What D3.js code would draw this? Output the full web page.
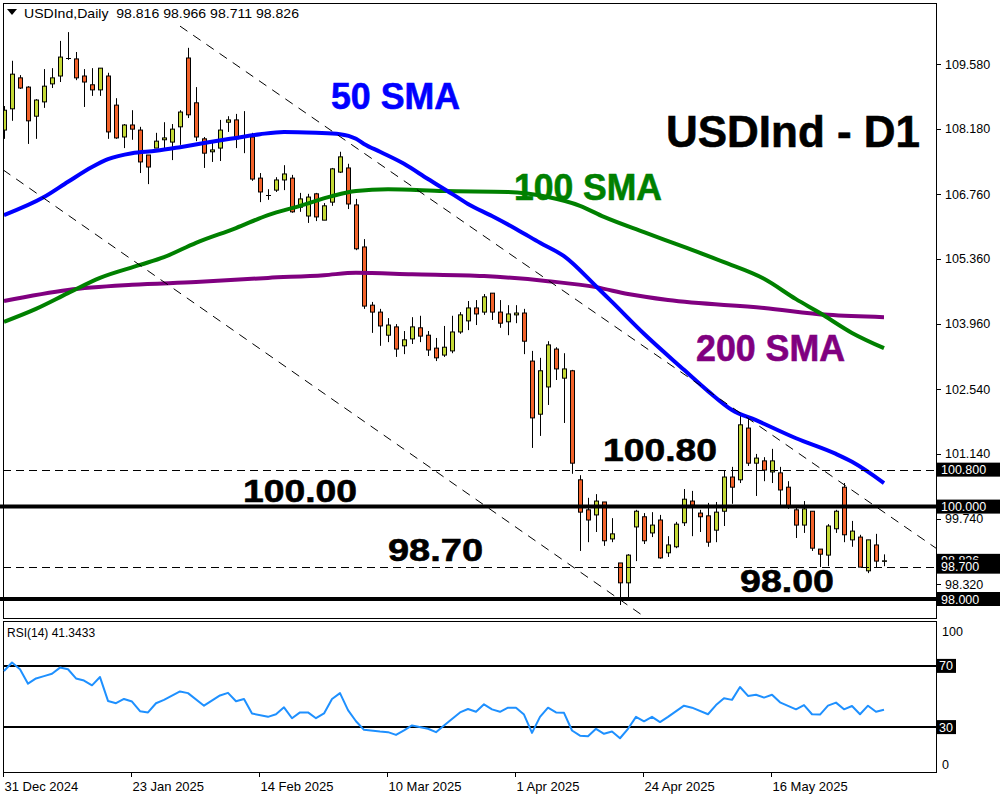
<!DOCTYPE html>
<html><head><meta charset="utf-8">
<script src="https://cdn.jsdelivr.net/npm/d3@7"></script>
<style>body{margin:0;background:#fff;} svg{display:block;}</style>
</head><body>
<svg id="c" width="1000" height="800"></svg>
<script>
// ---------- DATA ----------
const opens = [108.15,108.61,109.28,109.08,108.45,108.76,109.15,109.32,109.72,109.69,
109.32,109.13,109.02,109.32,108.69,108.00,108.26,108.15,107.61,107.76,
107.94,107.89,108.22,109.71,108.74,107.96,107.68,107.76,108.32,108.37,
108.02,108.00,107.11,106.74,106.85,107.07,107.11,106.48,106.29,106.77,
106.20,106.59,107.24,107.33,106.53,105.62,104.36,104.21,103.71,103.89,
103.48,103.63,103.87,103.71,103.43,103.28,103.37,103.78,104.02,104.30,
104.21,104.62,104.21,104.00,104.15,104.19,103.15,102.00,102.59,103.41,
102.78,102.94,100.58,99.93,99.82,100.10,99.30,98.78,98.35,99.56,
99.78,99.43,99.71,99.00,99.13,99.65,100.12,99.86,99.80,99.49,
99.90,100.64,100.58,101.70,100.94,100.99,100.75,100.73,100.42,99.93,
99.60,99.90,99.08,98.95,99.52,100.42,99.28,99.34,98.61,99.17,98.816];
const highs = [108.67,109.65,109.34,109.10,108.82,109.47,109.49,110.08,110.27,109.84,
109.47,109.49,109.49,109.39,108.84,108.28,108.58,108.22,107.61,108.09,
108.32,108.28,108.58,109.93,109.08,108.00,107.87,108.37,108.45,108.50,
108.56,108.09,107.22,106.87,107.13,107.39,107.18,106.79,106.77,106.79,
106.57,107.33,107.68,107.42,106.66,105.79,104.43,104.28,104.08,103.95,
103.80,104.10,104.13,103.80,103.65,103.91,104.13,104.21,104.45,104.47,
104.60,104.62,104.47,104.36,104.36,104.28,103.37,103.22,103.58,103.45,
103.32,102.96,100.68,100.19,100.27,100.10,99.75,98.78,98.97,99.93,
99.86,99.88,99.82,99.36,99.67,100.38,100.34,99.93,100.08,100.10,
100.79,100.86,101.96,101.90,101.14,101.07,101.25,100.86,100.55,99.99,
100.12,99.90,99.08,99.62,99.93,100.51,99.69,99.39,99.28,99.41,98.966];
const lows = [107.96,108.35,109.04,107.85,107.96,108.63,109.06,109.19,109.67,109.23,
108.65,108.89,108.89,107.96,107.96,107.76,107.94,107.22,106.98,107.76,
107.76,107.50,107.83,108.41,107.91,107.33,107.46,107.48,108.11,107.76,
107.65,107.05,106.59,106.64,106.81,106.85,106.36,106.38,106.14,106.18,
106.20,106.51,107.22,106.44,105.55,104.28,103.76,103.48,103.56,103.24,
103.30,103.52,103.56,103.26,103.15,103.24,103.32,103.74,103.82,103.93,
104.15,104.04,103.87,103.71,103.97,103.30,101.27,101.53,102.20,102.74,
101.81,100.71,99.04,99.23,99.45,99.15,99.23,97.87,98.02,98.82,
99.19,99.34,98.87,98.91,99.10,99.58,99.36,99.45,99.13,99.23,
99.58,100.06,100.51,100.88,100.23,100.55,100.51,100.03,99.95,99.32,
99.43,99.04,98.69,98.71,99.43,99.23,99.13,98.69,98.56,98.69,98.711];
const closes = [108.58,109.36,109.06,108.35,108.80,109.10,109.28,109.73,109.72,109.28,
109.19,109.02,109.49,108.11,107.98,108.26,108.17,107.46,107.35,107.91,
107.98,108.17,108.54,108.48,108.00,107.65,107.72,108.15,108.37,107.96,
108.02,107.09,106.81,106.74,107.07,107.20,106.38,106.66,106.70,106.27,
106.51,107.31,107.57,106.55,105.58,104.34,104.21,103.91,103.93,103.41,
103.61,103.89,103.69,103.39,103.22,103.45,103.78,104.15,104.30,104.17,
104.54,104.21,103.97,104.17,104.19,103.58,101.92,102.94,103.50,102.98,
102.98,100.94,99.88,99.71,100.12,99.26,99.41,98.35,98.95,99.90,
99.26,99.60,98.89,99.17,99.62,100.16,100.03,99.78,99.23,99.88,
100.64,100.42,101.77,100.94,101.05,100.79,100.99,100.36,99.99,99.60,
99.95,99.10,98.97,99.58,99.90,99.39,99.47,98.69,99.28,98.82,98.826];

const sma50Bars = [0,5,8,11,13,16,19,22,25,29,32,35,39,42,44,45,47,50,53,56,58,61,64,67,70,74,76,80,85,88,91,94,99,104,106,110];
const sma50Vals = [106.31,106.70,107.03,107.35,107.52,107.65,107.70,107.78,107.87,107.98,108.06,108.11,108.09,108.06,107.96,107.85,107.68,107.42,107.09,106.77,106.55,106.29,106.01,105.71,105.42,104.77,104.43,103.74,102.96,102.50,102.09,101.87,101.48,101.14,100.97,100.51];
const sma100Bars = [0,4,8,12,17,20,24,29,33,37,41,44,48,55,63,68,72,75,80,85,90,95,99,102,106,110];
const sma100Vals = [104.00,104.28,104.62,104.95,105.23,105.40,105.71,106.03,106.31,106.51,106.72,106.83,106.87,106.83,106.81,106.70,106.51,106.27,105.94,105.62,105.29,104.93,104.49,104.19,103.76,103.43];
const sma200Bars = [0,8,16,24,33,40,44,51,60,68,74,78,83,95,103,110];
const sma200Vals = [104.45,104.69,104.80,104.86,104.95,105.01,105.06,105.03,104.99,104.88,104.75,104.60,104.47,104.30,104.15,104.10];

const rsiBars = [0,1,2,3,4,5,6,7,8,9,10,11,12,13,14,15,16,17,18,19,20,
22,23,25,27,28,29,30,31,33,34,35,36,37,38,39,40,41,42,43,44,45,
47,48,49,50,51,53,54,55,57,58,59,60,61,62,63,64,65,66,67,68,69,70,71,72,73,74,75,76,77,78,79,80,81,82,83,
85,86,88,89,90,91,92,93,94,95,96,97,
99,100,101,102,103,104,105,106,107,108,109,110];
const rsiVals = [66.7,72.2,67.8,58.4,61.8,63.3,64.9,68.9,67.8,61.8,60.4,57.3,62.7,47.1,45.6,48.4,46.7,40.4,39.6,45.6,47.8,
53.3,52.2,44.0,50.7,52.4,46.9,48.4,38.9,36.7,38.4,42.9,35.8,39.6,39.6,35.8,38.9,48.4,52.2,41.1,33.8,28.2,
27.1,26.7,24.9,27.8,31.1,28.9,26.7,31.1,39.6,41.8,40.0,44.9,41.6,40.0,42.7,42.7,38.2,26.2,36.7,42.7,39.6,39.3,27.8,24.4,24.0,28.9,25.6,27.1,22.7,28.9,36.7,33.8,36.7,33.3,36.7,
44.0,42.7,38.4,44.4,48.9,47.8,56.2,50.4,51.1,49.3,51.1,46.2,
41.6,44.4,38.4,38.2,44.0,46.0,41.6,43.8,38.4,44.0,40.0,41.34];

const priceTicks = [109.58,108.18,106.76,105.36,103.96,102.54,101.14,99.74,98.32];
const dateLabels = ["31 Dec 2024","23 Jan 2025","14 Feb 2025","10 Mar 2025","1 Apr 2025","24 Apr 2025","16 May 2025"];
const dateBars = [0,16,32,48,64,80,96];
const dashedLevels = [100.8, 98.7];
const solidLevels = [100.0, 98.0];
const markedLevels = [100.8, 100.0, 98.7, 98.0];
const lastPrice = 98.826;
const headerText = "USDInd,Daily  98.816 98.966 98.711 98.826";
const rsiTitle = "RSI(14) 41.3433";
const rsiLevels = [70, 30];
const rsiTicks = [100, 70, 30, 0];
const trendUpperBars = [22, 116.5], trendUpperVals = [110.40, 99.10];
const trendLowerBars = [-0.125, 80.1], trendLowerVals = [107.29, 97.61];
const levelTexts = ["100.80","100.00","98.70","98.00"];
const levelTextVals = [100.8, 100.0, 98.7, 98.0];

// ---------- DRAW ----------
const svg = d3.select('#c');
const FONT = "'Liberation Sans', Arial, sans-serif";
const plotL = 3, plotR = 936, mainT = 3, mainB = 618, rsiT = 621, rsiB = 772;
const x = d3.scaleLinear().domain([0,110]).range([4,884]);
const y = d3.scaleLinear().domain([98,109.58]).range([599,64]);
const yr = d3.scaleLinear().domain([0,100]).range([773,620]);

svg.append('rect').attr('width',1000).attr('height',800).attr('fill','#fff');
const defs = svg.append('defs');
defs.append('clipPath').attr('id','clipMain').append('rect')
  .attr('x',plotL).attr('y',mainT).attr('width',plotR-plotL).attr('height',mainB-mainT);
defs.append('clipPath').attr('id','clipRsi').append('rect')
  .attr('x',plotL).attr('y',rsiT).attr('width',plotR-plotL).attr('height',rsiB-rsiT);

const gMain = svg.append('g').attr('clip-path','url(#clipMain)');

// candles
const idx = d3.range(opens.length);
const cg = gMain.append('g').selectAll('g').data(idx).join('g');
cg.append('line')
  .attr('x1', i => Math.round(x(i))+0.5).attr('x2', i => Math.round(x(i))+0.5)
  .attr('y1', i => y(highs[i])).attr('y2', i => y(lows[i]))
  .attr('stroke','#000').attr('stroke-width',1);
cg.each(function(i){
  const g = d3.select(this);
  const cx = Math.round(x(i));
  const o = opens[i], c = closes[i];
  if (Math.abs(o-c) < 0.005) {
    g.append('line').attr('x1',cx-2).attr('x2',cx+3)
      .attr('y1',Math.round(y(o))+0.5).attr('y2',Math.round(y(o))+0.5)
      .attr('stroke','#000').attr('stroke-width',1);
  } else {
    const top = Math.min(y(o),y(c)), h = Math.abs(y(o)-y(c));
    g.append('rect').attr('x',cx-1.5).attr('y',top)
      .attr('width',4).attr('height',Math.max(h,0.5))
      .attr('fill', c > o ? '#C4D936' : '#F2622A')
      .attr('stroke','#000').attr('stroke-width',1);
  }
});

// SMAs
function smaLine(bars, vals, color){
  const pts = bars.map((b,k)=>[x(b), y(vals[k])]);
  gMain.append('path').attr('d', d3.line().curve(d3.curveMonotoneX)(pts))
    .attr('fill','none').attr('stroke',color).attr('stroke-width',4).attr('stroke-linejoin','round');
}
smaLine(sma200Bars, sma200Vals, '#800080');
smaLine(sma100Bars, sma100Vals, '#008000');
smaLine(sma50Bars, sma50Vals, '#0000FF');

// trend lines
function trend(bars, vals){
  gMain.append('line').attr('x1',x(bars[0])).attr('y1',y(vals[0]))
    .attr('x2',x(bars[1])).attr('y2',y(vals[1]))
    .attr('stroke','#000').attr('stroke-width',1).attr('stroke-dasharray','9,7');
}
trend(trendUpperBars, trendUpperVals);
trend(trendLowerBars, trendLowerVals);

// horizontal levels
dashedLevels.forEach(v => {
  gMain.append('line').attr('x1',plotL).attr('x2',plotR)
    .attr('y1',Math.round(y(v))+0.5).attr('y2',Math.round(y(v))+0.5)
    .attr('stroke','#000').attr('stroke-width',1).attr('stroke-dasharray','8,5');
});
solidLevels.forEach(v => {
  svg.append('line').attr('x1',0).attr('x2',plotR)
    .attr('y1',y(v)).attr('y2',y(v))
    .attr('stroke','#000').attr('stroke-width',4);
});

// text annotations
function bigText(txt, x0, base, size, width, color){
  svg.append('text').attr('x',x0).attr('y',base).text(txt)
    .attr('font-family',FONT).attr('font-weight','bold').attr('font-size',size)
    .attr('fill',color).attr('stroke',color).attr('stroke-width',0.6)
    .attr('textLength',width).attr('lengthAdjust','spacingAndGlyphs');
}
bigText('50 SMA', 331, 109, 36, 129, '#0000FF');
bigText('100 SMA', 514, 200, 36, 148, '#008000');
bigText('200 SMA', 696, 361, 36, 149, '#800080');
bigText('USDInd - D1', 666, 147, 44, 254, '#000');
const ltPos = [[603,461,114],[243,502,114],[388,561,95],[740,592,94]];
levelTexts.forEach((t,k) => bigText(t, ltPos[k][0], ltPos[k][1], 32, ltPos[k][2], '#000'));

// frames
svg.append('rect').attr('x',plotL+0.5).attr('y',mainT+0.5).attr('width',plotR-plotL).attr('height',mainB-mainT)
  .attr('fill','none').attr('stroke','#000');
svg.append('rect').attr('x',plotL+0.5).attr('y',rsiT+0.5).attr('width',plotR-plotL).attr('height',rsiB-rsiT)
  .attr('fill','none').attr('stroke','#000');

// header
svg.append('path').attr('d','M7,9 L17,9 L12,15 Z').attr('fill','#000');
svg.append('text').attr('x',24).attr('y',18).text(headerText)
  .attr('font-family',FONT).attr('font-size',13).attr('fill','#000')
  .attr('textLength',275).attr('lengthAdjust','spacingAndGlyphs')
  .style('white-space','pre').attr('xml:space','preserve');

// right price axis
const axG = svg.append('g');
priceTicks.forEach(v => {
  const yy = Math.round(y(v))+0.5;
  axG.append('line').attr('x1',plotR).attr('x2',plotR+5).attr('y1',yy).attr('y2',yy).attr('stroke','#000');
  axG.append('text').attr('x',945).attr('y',y(v)+4.5).text(v.toFixed(3))
    .attr('font-family',FONT).attr('font-size',12.5).attr('fill','#000');
});
function priceBox(v){
  const yy = y(v);
  svg.append('rect').attr('x',937).attr('y',yy-7).attr('width',63).attr('height',14).attr('fill','#000');
  svg.append('text').attr('x',941).attr('y',yy+4.5).text(v.toFixed(3))
    .attr('font-family',FONT).attr('font-size',12.5).attr('fill','#fff');
}
priceBox(lastPrice);
markedLevels.forEach(priceBox);

// RSI panel
const gR = svg.append('g').attr('clip-path','url(#clipRsi)');
rsiLevels.forEach(v => {
  gR.append('line').attr('x1',plotL).attr('x2',plotR).attr('y1',yr(v)).attr('y2',yr(v))
    .attr('stroke','#000').attr('stroke-width',2);
});
const rpts = rsiBars.map((b,k)=>[x(b), yr(rsiVals[k])]);
gR.append('path').attr('d', d3.line()(rpts)).attr('fill','none')
  .attr('stroke','#1E90FF').attr('stroke-width',2).attr('stroke-linejoin','round');
svg.append('text').attr('x',7).attr('y',637).text(rsiTitle)
  .attr('font-family',FONT).attr('font-size',12).attr('fill','#000');

rsiTicks.forEach(v => {
  if (v === 70 || v === 30) {
    svg.append('line').attr('x1',plotR).attr('x2',plotR+5).attr('y1',yr(v)).attr('y2',yr(v)).attr('stroke','#000');
    svg.append('rect').attr('x',937).attr('y',yr(v)-7).attr('width',19).attr('height',14).attr('fill','#000');
    svg.append('text').attr('x',939).attr('y',yr(v)+4.5).text(v)
      .attr('font-family',FONT).attr('font-size',12.5).attr('fill','#fff');
  } else {
    const yy = v === 100 ? yr(v)+16 : yr(v)-4;
    svg.append('text').attr('x',942).attr('y',yy).text(v)
      .attr('font-family',FONT).attr('font-size',12.5).attr('fill','#000');
  }
});

// date axis
dateBars.forEach((b,k) => {
  const xx = Math.round(x(b))-0.5;
  svg.append('line').attr('x1',xx).attr('x2',xx).attr('y1',rsiB).attr('y2',rsiB+5).attr('stroke','#000');
  svg.append('text').attr('x',xx+1).attr('y',791).text(dateLabels[k])
    .attr('font-family',FONT).attr('font-size',13).attr('fill','#000');
});
</script>
</body></html>
